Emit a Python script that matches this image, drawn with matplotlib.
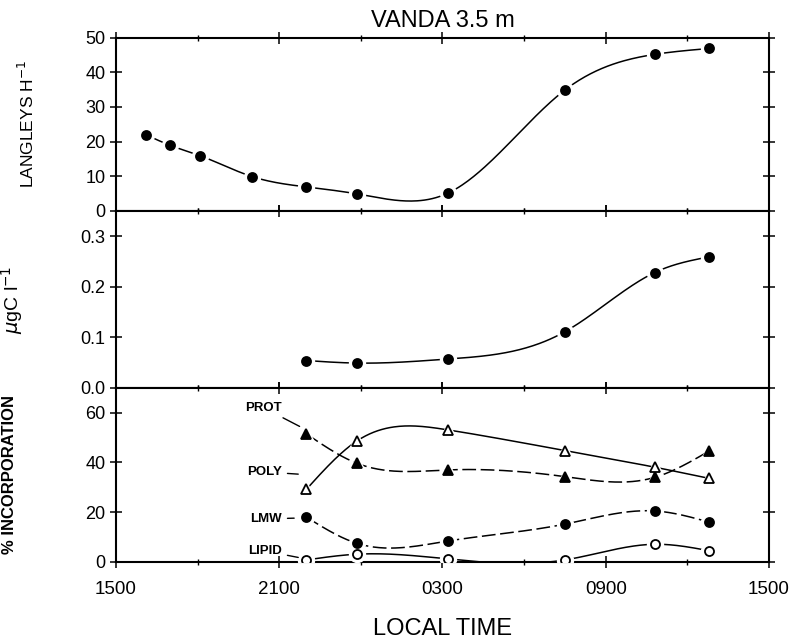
import numpy as np
import matplotlib.pyplot as plt

plt.rcParams['font.family'] = ['Liberation Sans', 'DejaVu Sans']

# sampling times, hours after 1500 local time
t_light = [1.1, 2.0, 3.1, 5.0, 7.0, 8.85, 12.2, 16.5, 19.8, 21.8]
light = [22.0, 18.9, 15.9, 9.9, 6.9, 4.9, 5.1, 34.9, 45.2, 46.9]

t_samp = [7.0, 8.85, 12.2, 16.5, 19.8, 21.8]
ugc = [0.054, 0.049, 0.057, 0.111, 0.228, 0.259]
prot = [51.5, 39.7, 37.0, 34.3, 34.0, 44.6]
poly = [29.2, 48.6, 53.1, 44.8, 38.1, 33.6]
lmw = [18.0, 7.5, 8.4, 15.2, 20.5, 16.0]
lipid = [0.8, 3.1, 1.2, 0.8, 7.1, 4.5]

xticks = [0, 6, 12, 18, 24]
xticklabels = ['1500', '2100', '0300', '0900', '1500']


def spline(x, y, n=300):
    # natural cubic spline through the points
    x = np.asarray(x, float)
    y = np.asarray(y, float)
    k = len(x)
    h = np.diff(x)
    A = np.zeros((k, k))
    b = np.zeros(k)
    A[0, 0] = A[-1, -1] = 1
    for i in range(1, k - 1):
        A[i, i - 1] = h[i - 1]
        A[i, i] = 2 * (h[i - 1] + h[i])
        A[i, i + 1] = h[i]
        b[i] = 6 * ((y[i + 1] - y[i]) / h[i] - (y[i] - y[i - 1]) / h[i - 1])
    M = np.linalg.solve(A, b)
    xs = np.linspace(x[0], x[-1], n)
    j = np.clip(np.searchsorted(x, xs) - 1, 0, k - 2)
    dx1 = x[j + 1] - xs
    dx0 = xs - x[j]
    hj = h[j]
    ys = (M[j] * dx1**3 / (6 * hj) + M[j + 1] * dx0**3 / (6 * hj)
          + (y[j] / hj - M[j] * hj / 6) * dx1
          + (y[j + 1] / hj - M[j + 1] * hj / 6) * dx0)
    return xs, ys


def series(ax, x, y, marker, filled=True, dashes=None, ms=6.5):
    xs, ys = spline(x, y)
    line, = ax.plot(xs, ys, color='black', lw=1.1, zorder=2)
    if dashes:
        line.set_dashes(dashes)
    # white halo so the line stops short of each symbol
    ax.plot(x, y, ls='none', marker=marker, ms=ms + 5, mfc='white',
            mec='white', zorder=3)
    ax.plot(x, y, ls='none', marker=marker, ms=ms,
            mfc='black' if filled else 'white', mec='black', mew=1.3, zorder=4)


fig, axes = plt.subplots(3, 1, figsize=(7.94, 6.4), dpi=100, sharex=True,
                         gridspec_kw={'height_ratios': [173, 177, 174], 'hspace': 0})
fig.subplots_adjust(left=0.146, right=0.9685, top=0.941, bottom=0.122)
ax1, ax2, ax3 = axes

series(ax1, t_light, light, 'o')
ax1.set_ylim(0, 50)
ax1.set_yticks([0, 10, 20, 30, 40, 50])
ax1.set_ylabel('LANGLEYS H$^{-1}$', fontsize=12.5)
ax1.yaxis.set_label_coords(-0.121, 0.5)

series(ax2, t_samp, ugc, 'o')
ax2.set_ylim(0, 0.35)
ax2.set_yticks([0.0, 0.1, 0.2, 0.3])
ax2.set_yticklabels(['0.0', '0.1', '0.2', '0.3'])
ax2.set_ylabel(r'$\mu$gC l$^{-1}$', fontsize=14)
ax2.yaxis.set_label_coords(-0.139, 0.5)

series(ax3, t_samp, prot, '^', dashes=(9, 3), ms=7)
series(ax3, t_samp, poly, '^', filled=False, ms=7)
series(ax3, t_samp, lmw, 'o', dashes=(9, 3))
series(ax3, t_samp, lipid, 'o', filled=False)
ax3.set_ylim(0, 70)
ax3.set_yticks([0, 20, 40, 60])
ax3.set_ylabel('% INCORPORATION', fontsize=12, fontweight='bold')
ax3.yaxis.set_label_coords(-0.152, 0.5)

labels = [('PROT', 62, 6.75, 54.5), ('POLY', 36.2, 6.7, 35.3),
          ('LMW', 17.3, 6.55, 17.6), ('LIPID', 4.4, 6.7, 1.8)]
for name, ty, ex, ey in labels:
    ax3.annotate(name, xy=(ex, ey), xytext=(6.1, ty), ha='right', va='center',
                 fontsize=9.5, fontweight='bold',
                 arrowprops=dict(arrowstyle='-', lw=1.0, color='black',
                                 shrinkA=2, shrinkB=0))

for ax in axes:
    ax.set_xlim(0, 24)
    ax.set_xticks(xticks)
    ax.set_xticks([3, 9, 15, 21], minor=True)
    ax.tick_params(axis='both', which='major', direction='inout', length=8,
                   width=1.1, top=True, right=True, labelsize=13)
    ax.tick_params(axis='both', which='minor', direction='inout', length=5,
                   width=1.0, top=True, right=True)
    for s in ax.spines.values():
        s.set_linewidth(1.5)

ax3.set_xticklabels(xticklabels)
ax3.tick_params(axis='x', pad=10, labelsize=13.5)
ax3.set_xlabel('LOCAL TIME', fontsize=17, labelpad=14)
ax1.set_title('VANDA 3.5 m', fontsize=17, pad=8)

fig.savefig('out.png', dpi=100)
